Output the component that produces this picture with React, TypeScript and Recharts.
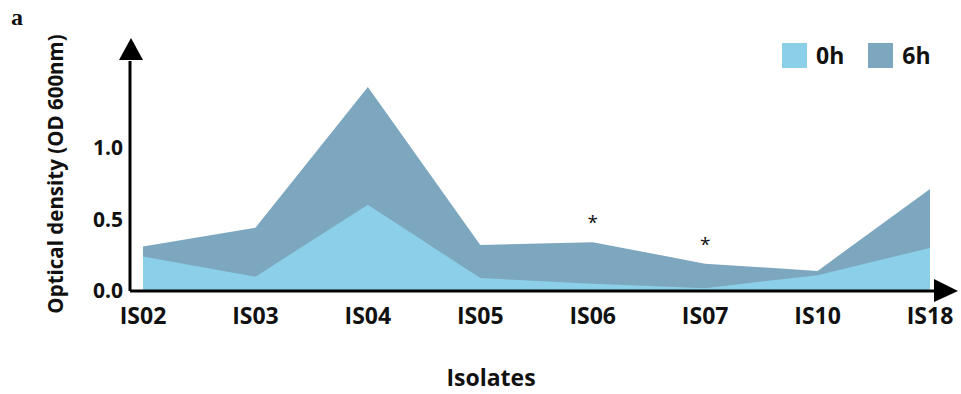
import { AreaChart, Area, XAxis, YAxis, Legend, LabelList } from 'recharts'

const isolates = ['IS02', 'IS03', 'IS04', 'IS05', 'IS06', 'IS07', 'IS10', 'IS18']
const od0h = [0.24, 0.1, 0.6, 0.09, 0.05, 0.02, 0.11, 0.3]
const od6h = [0.31, 0.44, 1.42, 0.32, 0.34, 0.19, 0.14, 0.71]
const marks = ['', '', '', '', '*', '*', '', '']
const yTicks = [0, 0.5, 1.0]

const COLOR_0H = '#8BD0E8'
const COLOR_6H = '#7CA7BE'
const FONT = '"Open Sans", "Noto Sans", sans-serif'

const data = isolates.map((name, i) => ({
  name,
  h0: od0h[i],
  h6: od6h[i],
  mark: marks[i],
}))

function renderLegend(props: any) {
  const items = [...(props.payload || [])].sort((a: any, b: any) =>
    String(a.value).localeCompare(String(b.value))
  )
  return (
    <div style={{ display: 'flex', alignItems: 'center', fontFamily: FONT }}>
      {items.map((it: any) => (
        <div key={it.value} style={{ display: 'flex', alignItems: 'center', marginRight: 24 }}>
          <span style={{ width: 25, height: 25, background: it.color, display: 'inline-block', marginRight: 9 }} />
          <span style={{ fontSize: 23, fontWeight: 700, color: '#111', lineHeight: '25px' }}>{it.value}</span>
        </div>
      ))}
    </div>
  )
}

function Star(props: any) {
  const { x, y, value } = props
  if (!value) return null
  return (
    <text x={x} y={y - 13} textAnchor="middle" fontSize={19} fontFamily={FONT} fill="#111">
      {value}
    </text>
  )
}

export default function App() {
  return (
    <div style={{ position: 'absolute', left: 0, top: 0, width: 961, height: 394, background: '#fff' }}>
      <AreaChart
        width={961}
        height={394}
        data={data}
        margin={{ top: 61, right: 26, left: 90, bottom: 73 }}
      >
        <XAxis
          dataKey="name"
          padding={{ left: 13, right: 5 }}
          axisLine={{ stroke: '#000', strokeWidth: 3 }}
          tickLine={false}
          tickSize={0}
          tickMargin={17}
          height={30}
          interval={0}
          tick={{ fontSize: 23, fontWeight: 700, fill: '#111', fontFamily: FONT }}
        />
        <YAxis
          domain={[0, 1.6]}
          ticks={yTicks}
          width={40}
          axisLine={{ stroke: '#000', strokeWidth: 3 }}
          tickLine={false}
          tickSize={0}
          tickMargin={7}
          tickFormatter={(v: number) => v.toFixed(1)}
          tick={{ fontSize: 21, fontWeight: 700, fill: '#111', fontFamily: FONT }}
        />
        <Legend
          layout="horizontal"
          verticalAlign="middle"
          align="center"
          content={renderLegend}
          wrapperStyle={{ position: 'absolute', top: 43, left: 782, width: 180 }}
        />
        <Area
          type="linear"
          dataKey="h6"
          name="6h"
          stroke="none"
          fill={COLOR_6H}
          fillOpacity={1}
          isAnimationActive={false}
        >
          <LabelList dataKey="mark" content={<Star />} />
        </Area>
        <Area
          type="linear"
          dataKey="h0"
          name="0h"
          stroke="none"
          fill={COLOR_0H}
          fillOpacity={1}
          isAnimationActive={false}
        />
      </AreaChart>
      <svg
        width={961}
        height={394}
        style={{ position: 'absolute', left: 0, top: 0, pointerEvents: 'none' }}
      >
        <polygon points="119,60 143,60 131,38" fill="#000" />
        <polygon points="934,279 934,302 958,291" fill="#000" />
        <text x={11} y={25} fontSize={24} fontWeight={700} fontFamily='"Liberation Serif", serif' fill="#111">
          a
        </text>
        <text
          x={491}
          y={386}
          textAnchor="middle"
          fontSize={23}
          fontWeight={700}
          fontFamily={FONT}
          fill="#111"
        >
          Isolates
        </text>
        <text
          transform="translate(63,174) rotate(-90)"
          textAnchor="middle"
          fontSize={20.5}
          fontWeight={700}
          fontFamily={FONT}
          fill="#111"
        >
          Optical density (OD 600nm)
        </text>
      </svg>
    </div>
  )
}
